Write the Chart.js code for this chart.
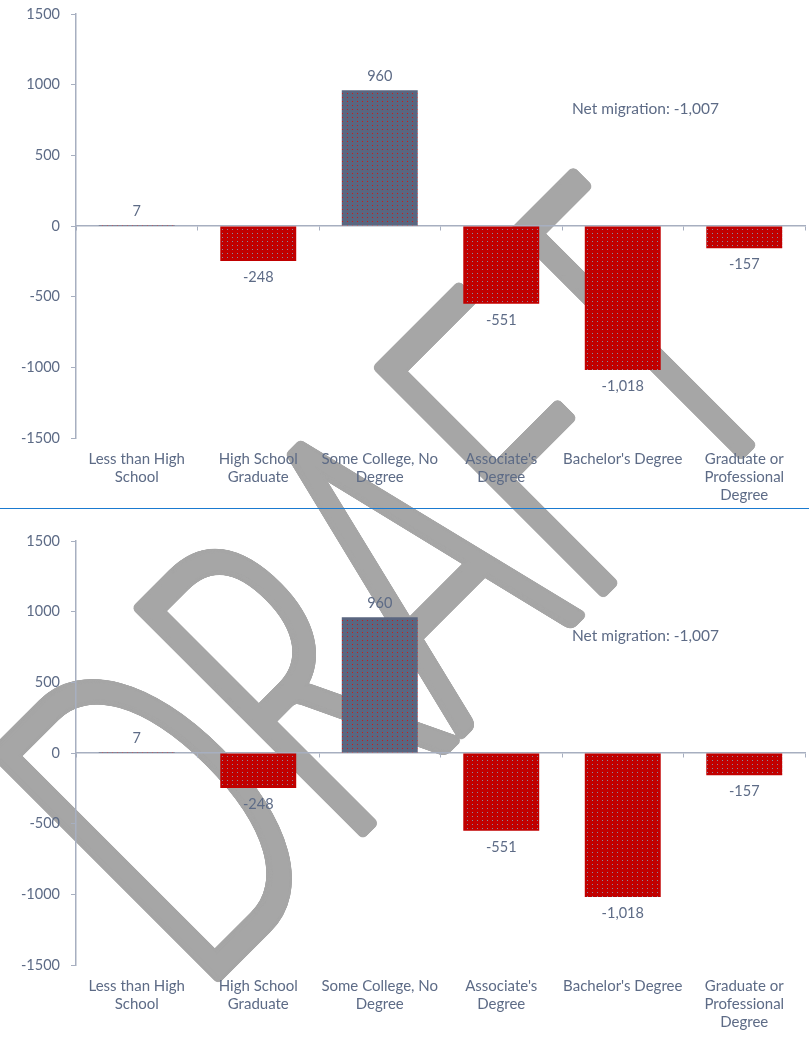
<!DOCTYPE html>
<html>
<head>
<meta charset="utf-8">
<script src="https://cdn.jsdelivr.net/npm/chart.js@4/dist/chart.umd.min.js"></script>
<style>
html,body{margin:0;padding:0;background:#ffffff;width:809px;height:1040px;overflow:hidden;}
#wm{position:absolute;left:0;top:0;z-index:0;}
.cw{position:absolute;left:0;width:809px;height:508px;z-index:1;}
#w1{top:0;}
#w2{top:527px;}
#sep{position:absolute;left:0;top:508px;width:809px;height:1px;background:#1a7ad0;z-index:2;}
</style>
</head>
<body>
<canvas id="wm" width="809" height="1040"></canvas>
<div class="cw" id="w1"><canvas id="c1" width="809" height="508"></canvas></div>
<div id="sep"></div>
<div class="cw" id="w2"><canvas id="c2" width="809" height="508"></canvas></div>
<script>
// ---- data ----
const categories = [
  ["Less than High", "School"],
  ["High School", "Graduate"],
  ["Some College, No", "Degree"],
  ["Associate's", "Degree"],
  ["Bachelor's Degree"],
  ["Graduate or", "Professional", "Degree"]
];
const netMigration = [7, -248, 960, -551, -1018, -157];
const yTicks = [-1500, -1000, -500, 0, 500, 1000, 1500];
const netTotalLabel = "Net migration: -1,007";
const watermarkText = "DRAFT";

// ---- styles ----
const textColor = '#5d6b86';
const axisColor = '#a7afc0';
const FONT = 'Lato';

function makePattern(base, dot) {
  const c = document.createElement('canvas');
  c.width = 5; c.height = 4;
  const g = c.getContext('2d');
  g.fillStyle = base; g.fillRect(0, 0, 5, 4);
  g.fillStyle = dot; g.fillRect(2, 1, 1, 1);
  return g.createPattern(c, 'repeat');
}

// ---- watermark (behind the charts) ----
(function () {
  const g = document.getElementById('wm').getContext('2d');
  g.font = '300 450px ' + FONT;
  const m = g.measureText(watermarkText);
  const ink = m.actualBoundingBoxLeft + m.actualBoundingBoxRight;
  const r = 4.5;
  const sx = (836 - 2 * r) / ink;
  g.fillStyle = '#a6a6a6';
  g.textBaseline = 'alphabetic';
  const offs = [[0, 0]];
  for (const rr of [r, r * 0.5]) {
    for (let k = 0; k < 32; k++) {
      const a = k / 32 * Math.PI * 2;
      offs.push([rr * Math.cos(a), rr * Math.sin(a)]);
    }
  }
  const bx = 213 + r * 0.7, by = 983 - r * 0.7;
  for (const [dx, dy] of offs) {
    g.save();
    g.translate(bx + dx, by + dy);
    g.rotate(-Math.PI / 4);
    g.scale(sx, 1);
    g.fillText(watermarkText, m.actualBoundingBoxLeft, 0);
    g.restore();
  }
})();

const valueLabels = {
  id: 'valueLabels',
  afterDatasetsDraw(chart) {
    const ctx = chart.ctx;
    const meta = chart.getDatasetMeta(0);
    ctx.save();
    ctx.font = '14.5px ' + FONT;
    ctx.fillStyle = textColor;
    ctx.textAlign = 'center';
    ctx.textBaseline = 'middle';
    meta.data.forEach((el, i) => {
      const v = chart.data.datasets[0].data[i];
      const y = v >= 0 ? el.y - 14 : el.y + 16;
      ctx.fillText(v.toLocaleString('en-US'), el.x, y);
    });
    ctx.textAlign = 'left';
    ctx.font = '15.5px ' + FONT;
    const ys = chart.scales.y;
    ctx.fillText(netTotalLabel, 572, ys.getPixelForValue(830));
    ctx.restore();
  }
};

function build(id) {
  const ctx = document.getElementById(id).getContext('2d');
  const redPat = makePattern('#c00000', '#8a8aa0');
  const bluePat = makePattern('#5a6680', '#d01818');
  return new Chart(ctx, {
    type: 'bar',
    data: {
      labels: categories,
      datasets: [{
        data: netMigration,
        backgroundColor: netMigration.map(v => v >= 0 ? bluePat : redPat),
        borderWidth: 0,
        categoryPercentage: 1,
        barPercentage: 0.625
      }]
    },
    options: {
      responsive: false,
      devicePixelRatio: 1,
      animation: false,
      events: [],
      layout: { padding: { top: 14, right: 4, left: 0, bottom: 0 } },
      plugins: { legend: { display: false }, tooltip: { enabled: false } },
      scales: {
        x: {
          type: 'category',
          offset: true,
          grid: { display: false, drawTicks: false },
          border: { display: false },
          ticks: {
            color: textColor,
            font: { family: FONT, size: 15, lineHeight: 1.2 },
            padding: 12,
            maxRotation: 0,
            autoSkip: false
          },
          afterFit: s => { s.height = 70; s.paddingLeft = 0; s.paddingRight = 0; }
        },
        x2: {
          type: 'category',
          position: { y: 0 },
          offset: true,
          z: 1,
          grid: { offset: true, drawOnChartArea: false, drawTicks: true, tickLength: 4, color: axisColor, lineWidth: 1 },
          border: { display: true, color: axisColor, width: 1.5 },
          ticks: { display: false },
          afterFit: s => { s.paddingLeft = 0; s.paddingRight = 0; s.paddingTop = 0; s.paddingBottom = 0; }
        },
        y: {
          min: -1500,
          max: 1500,
          afterBuildTicks: s => { s.ticks = yTicks.map(v => ({ value: v })); },
          ticks: {
            color: textColor,
            font: { family: FONT, size: 14.5 },
            padding: 11,
            callback: v => String(v)
          },
          grid: { display: true, drawOnChartArea: false, drawTicks: true, tickLength: 5, color: axisColor },
          border: { display: true, color: axisColor, width: 1.5 },
          afterFit: s => { s.width = 76; s.paddingTop = 0; s.paddingBottom = 0; }
        }
      }
    },
    plugins: [valueLabels]
  });
}
build('c1');
build('c2');
</script>
</body>
</html>
